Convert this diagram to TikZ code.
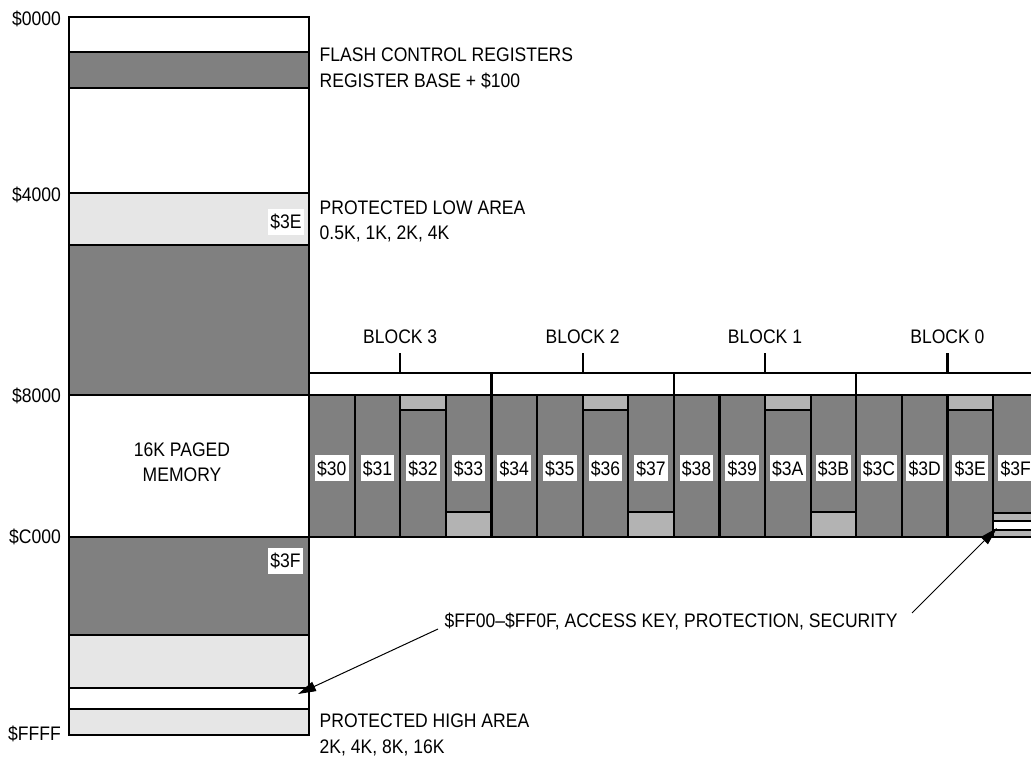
\documentclass[tikz,border=0pt]{standalone}
\usepackage{fontspec}
\setmainfont{Liberation Sans}[FakeStretch=0.895]
\usetikzlibrary{arrows.meta}
\definecolor{dk}{HTML}{808080}
\definecolor{lt}{HTML}{E6E6E6}
\definecolor{md}{HTML}{B3B3B3}
\begin{document}
\begin{tikzpicture}[x=1pt,y=-1pt,
  font=\fontsize{19.6}{26}\selectfont,
  seg/.style={draw=black, line width=2.2pt},
  txt/.style={inner sep=0pt, anchor=base west},
  addr/.style={inner sep=0pt, anchor=base east},
  banklbl/.style={fill=white, inner xsep=2.2pt, inner ysep=6pt, text height=14pt, text depth=0pt},
  ptr/.style={draw=black, line width=1pt, -{Triangle[length=18pt,width=10pt]}}]
\useasboundingbox (0,0) rectangle (1031,757);
\clip (0,0) rectangle (1031,757);
% main memory column
\foreach \a/\b/\c in {17/52/white,52/88/dk,88/193/white,193/245/lt,245/395/dk,395/537/white,537/635/dk,635/688/lt,688/709/white,709/735/lt}
  \draw[seg, fill=\c] (69,\a) rectangle (309,\b);
% banks
\foreach \i in {0,...,15}{
  \draw[seg, fill=dk] ({309+\i*45.6},395) rectangle ({309+(\i+1)*45.6},537);
}
\foreach \i in {2,6,10,14}
  \draw[seg, fill=md] ({309+\i*45.6},395) rectangle ({309+(\i+1)*45.6},410);
\foreach \i in {3,7,11}
  \draw[seg, fill=md] ({309+\i*45.6},512) rectangle ({309+(\i+1)*45.6},537);
\draw[seg, fill=md] (993,513) rectangle (1040,521);
\draw[seg, fill=white] (993,521) rectangle (1040,530);
\draw[seg, fill=md] (993,530) rectangle (1040,537);
\foreach \i/\t in {0/30,1/31,2/32,3/33,4/34,5/35,6/36,7/37,8/38,9/39,10/3A,11/3B,12/3C,13/3D,14/3E,15/3F}
  \node[banklbl] (b\t) at ({309+(\i+0.5)*45.6},468) {\$\t};
% block header
\draw[seg] (309,373) -- (1040,373);
\foreach \i in {4,8,12}
  \draw[seg] ({309+\i*45.6},373) -- ({309+\i*45.6},395);
\foreach \i/\n in {2/3,6/2,10/1,14/0}{
  \draw[seg] ({309+\i*45.6},353) -- ({309+\i*45.6},373);
  \node[inner sep=0pt, anchor=base] (blk\n) at ({309+\i*45.6},343) {BLOCK \n};
}
% addresses
\node[addr] (a0) at (61,26) {\$0000};
\node[addr] (a4) at (61,201) {\$4000};
\node[addr] (a8) at (61,402) {\$8000};
\node[addr] (aC) at (61,543.5) {\$C000};
\node[addr] (aF) at (61,740) {\$FFFF};
% page labels in main column
\node[banklbl, anchor=east] (p3E) at (304,221.5) {\$3E};
\node[banklbl, anchor=east] (p3F) at (303,560.5) {\$3F};
\node[inner sep=0pt, anchor=base] (pg1) at (182,456) {16K PAGED};
\node[inner sep=0pt, anchor=base] (pg2) at (182,481.7) {MEMORY};
% right-hand descriptions
\node[txt] (fc1) at (319.5,61.7) {FLASH CONTROL REGISTERS};
\node[txt] (fc2) at (319.5,88) {REGISTER BASE + \$100};
\node[txt] (pl1) at (319.5,214) {PROTECTED LOW AREA};
\node[txt] (pl2) at (319.5,239) {0.5K, 1K, 2K, 4K};
\node[txt] (ph1) at (319.5,727) {PROTECTED HIGH AREA};
\node[txt] (ph2) at (319.5,753) {2K, 4K, 8K, 16K};
\node[txt] (key) at (444.5,627) {\$FF00–\$FF0F, ACCESS KEY, PROTECTION, SECURITY};
% arrows
\coordinate (kl) at (438,629);
\coordinate (kr) at (912,613);
\coordinate (tl) at (298,694);
\coordinate (tr) at (997,528);
\draw[ptr] (kl) -- (tl);
\draw[ptr] (kr) -- (tr);
\end{tikzpicture}
\end{document}
